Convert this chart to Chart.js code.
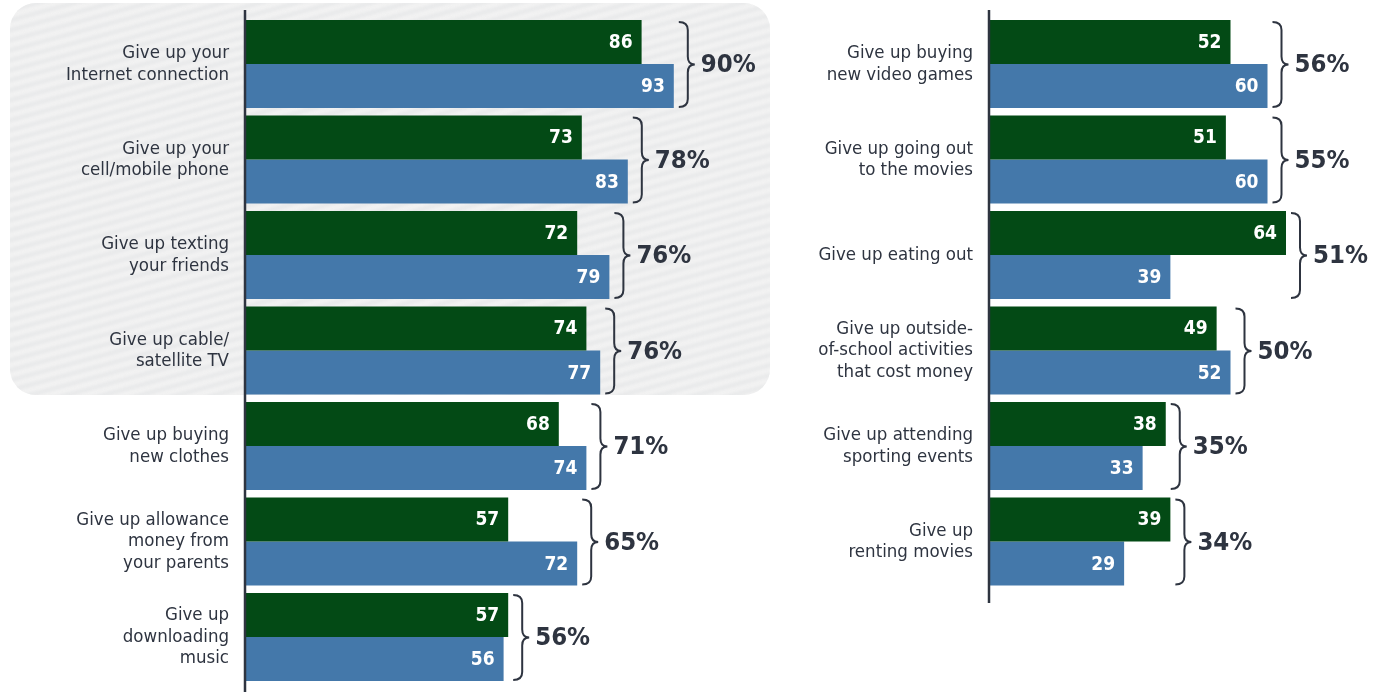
<!DOCTYPE html>
<html>
<head>
<meta charset="utf-8">
<script src="https://cdn.jsdelivr.net/npm/chart.js@4"></script>
<style>
  html, body { margin: 0; padding: 0; background: #ffffff; }
  #wrap { position: relative; width: 1375px; height: 692px; overflow: hidden; }
  #leftBox { position: absolute; left: 0; top: 0; width: 770px; height: 692px; }
  #rightBox { position: absolute; left: 780px; top: 0; width: 595px; height: 692px; }
</style>
</head>
<body>
<div id="wrap">
  <div id="leftBox"><canvas id="leftChart"></canvas></div>
  <div id="rightBox"><canvas id="rightChart"></canvas></div>
</div>
<script>
// ---- data: left panel ----
const leftCategories = [
  ['Give up your', 'Internet connection'],
  ['Give up your', 'cell/mobile phone'],
  ['Give up texting', 'your friends'],
  ['Give up cable/', 'satellite TV'],
  ['Give up buying', 'new clothes'],
  ['Give up allowance', 'money from', 'your parents'],
  ['Give up', 'downloading', 'music']
];
const leftGreen = [86, 73, 72, 74, 68, 57, 57];
const leftBlue  = [93, 83, 79, 77, 74, 72, 56];
const leftTotals = [90, 78, 76, 76, 71, 65, 56];

// ---- data: right panel ----
const rightCategories = [
  ['Give up buying', 'new video games'],
  ['Give up going out', 'to the movies'],
  ['Give up eating out'],
  ['Give up outside-', 'of-school activities', 'that cost money'],
  ['Give up attending', 'sporting events'],
  ['Give up', 'renting movies']
];
const rightGreen = [52, 51, 64, 49, 38, 39];
const rightBlue  = [60, 60, 39, 52, 33, 29];
const rightTotals = [56, 55, 51, 50, 35, 34];

// ---- styling ----
const GREEN = '#034a15';
const BLUE = '#4478aa';
const INK = '#2e3440';
const LABEL_FAMILY = "'DejaVu Sans Condensed', 'DejaVu Sans', sans-serif";
const BOLD_FAMILY = "'DejaVu Sans Condensed', 'DejaVu Sans', sans-serif";

// striped rounded panel behind the first four rows on the left
const stripedPanel = {
  id: 'stripedPanel',
  beforeDraw(chart, args, opts) {
    if (!opts.enabled) return;
    const ctx = chart.ctx;
    const x = 10, y = 3, w = 760, h = 392, r = 26;
    ctx.save();
    ctx.beginPath();
    ctx.roundRect(x, y, w, h, r);
    ctx.clip();
    ctx.fillStyle = '#f3f3f3';
    ctx.fillRect(x, y, w, h);
    ctx.filter = 'blur(1.5px)';
    ctx.strokeStyle = '#e8e9ea';
    ctx.lineWidth = 4.5;
    const slope = -0.27, period = 10;
    for (let k = -40; k < 130; k++) {
      const y0 = y + k * period;
      ctx.beginPath();
      ctx.moveTo(x - 10, y0);
      ctx.lineTo(x + w + 10, y0 + slope * (w + 20));
      ctx.stroke();
    }
    ctx.restore();
  }
};

// vertical axis rule, value labels, braces and totals
const annotations = {
  id: 'annotations',
  afterDatasetsDraw(chart, args, opts) {
    const ctx = chart.ctx;
    const area = chart.chartArea;
    ctx.save();
    // axis rule
    ctx.strokeStyle = INK;
    ctx.lineWidth = 2.5;
    ctx.beginPath();
    ctx.moveTo(area.left - 1, opts.ruleTop);
    ctx.lineTo(area.left - 1, opts.ruleBottom);
    ctx.stroke();

    const m0 = chart.getDatasetMeta(0), m1 = chart.getDatasetMeta(1);
    const ds = chart.data.datasets;
    // values inside the bar ends
    ctx.fillStyle = '#ffffff';
    ctx.font = 'bold ' + opts.valueSize + 'px ' + BOLD_FAMILY;
    ctx.textAlign = 'right';
    ctx.textBaseline = 'middle';
    [m0, m1].forEach((meta, di) => {
      meta.data.forEach((bar, i) => {
        ctx.fillText(String(ds[di].data[i]), bar.x - 9, bar.y + 1);
      });
    });

    // braces + totals
    ctx.strokeStyle = INK;
    ctx.lineWidth = 2;
    ctx.fillStyle = INK;
    ctx.font = 'bold ' + opts.totalSize + 'px ' + BOLD_FAMILY;
    ctx.textAlign = 'left';
    m0.data.forEach((g, i) => {
      const b = m1.data[i];
      const top = g.y - g.height / 2 + 2;
      const bot = b.y + b.height / 2 - 1;
      const x0 = Math.max(g.x, b.x) + 5;
      const xm = x0 + 9, xt = x0 + 16;
      const ym = (top + bot) / 2, r = 8;
      ctx.beginPath();
      ctx.moveTo(x0, top);
      ctx.quadraticCurveTo(xm, top, xm, top + r);
      ctx.lineTo(xm, ym - r);
      ctx.quadraticCurveTo(xm, ym, xt, ym);
      ctx.quadraticCurveTo(xm, ym, xm, ym + r);
      ctx.lineTo(xm, bot - r);
      ctx.quadraticCurveTo(xm, bot, x0, bot);
      ctx.stroke();
      ctx.fillText(opts.totals[i] + '%', xt + 6, ym + 1);
    });
    ctx.restore();
  }
};

function makeChart(id, categories, green, blue, totals, cfg) {
  return new Chart(document.getElementById(id), {
    type: 'bar',
    data: {
      labels: categories,
      datasets: [
        { label: 'Group 1', data: green, backgroundColor: GREEN },
        { label: 'Group 2', data: blue, backgroundColor: BLUE }
      ]
    },
    options: {
      indexAxis: 'y',
      responsive: true,
      maintainAspectRatio: false,
      animation: false,
      layout: { padding: cfg.padding },
      datasets: { bar: { categoryPercentage: 0.922, barPercentage: 1.0 } },
      scales: {
        x: { display: false, min: 0, max: cfg.max },
        y: {
          grid: { display: false, drawTicks: false },
          border: { display: false },
          ticks: {
            autoSkip: false,
            color: INK,
            padding: cfg.labelGap,
            font: { family: LABEL_FAMILY, size: cfg.labelSize, lineHeight: cfg.lineHeight }
          },
          afterFit(scale) {
            // fixed label column; rows fill the full height set by layout padding
            scale.width = cfg.labelWidth;
            scale.paddingTop = 0;
            scale.paddingBottom = 0;
          }
        }
      },
      plugins: {
        legend: { display: false },
        tooltip: { enabled: false },
        stripedPanel: { enabled: cfg.panel },
        annotations: {
          totals: totals,
          ruleTop: cfg.ruleTop,
          ruleBottom: cfg.ruleBottom,
          valueSize: cfg.valueSize,
          totalSize: cfg.totalSize
        }
      }
    },
    plugins: [stripedPanel, annotations]
  });
}

makeChart('leftChart', leftCategories, leftGreen, leftBlue, leftTotals, {
  padding: { top: 16.3, bottom: 7.2, left: 0, right: 18 },
  max: 110, labelWidth: 246, labelGap: 17, labelSize: 18.5, lineHeight: '21.5px',
  panel: true, ruleTop: 10, ruleBottom: 692, valueSize: 19, totalSize: 25.5
});

makeChart('rightChart', rightCategories, rightGreen, rightBlue, rightTotals, {
  padding: { top: 16.3, bottom: 102.7, left: 0, right: 15 },
  max: 80, labelWidth: 210, labelGap: 17, labelSize: 18.5, lineHeight: '21.7px',
  panel: false, ruleTop: 10, ruleBottom: 603, valueSize: 19, totalSize: 25.5
});
</script>
</body>
</html>
